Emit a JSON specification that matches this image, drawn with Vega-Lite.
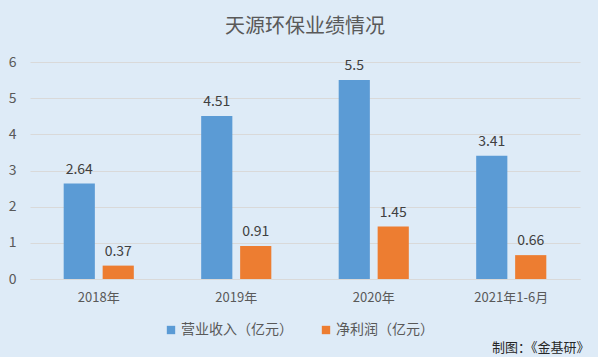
{
  "$schema": "https://vega.github.io/schema/vega-lite/v6.json",
  "width": 550,
  "height": 217,
  "autosize": "none",
  "padding": {"left": 30, "top": 62, "right": 18, "bottom": 78},
  "background": "#DEEBF7",
  "title": {
    "text": "天源环保业绩情况",
    "font": "Noto Sans CJK SC",
    "fontSize": 20,
    "fontWeight": "normal",
    "color": "#595959",
    "anchor": "middle",
    "offset": 18
  },
  "config": {
    "view": {"stroke": null},
    "font": "Noto Sans CJK SC"
  },
  "data": {
    "values": [
      {"period": "2018年", "series": "营业收入（亿元）", "value": 2.64},
      {"period": "2018年", "series": "净利润（亿元）", "value": 0.37},
      {"period": "2019年", "series": "营业收入（亿元）", "value": 4.51},
      {"period": "2019年", "series": "净利润（亿元）", "value": 0.91},
      {"period": "2020年", "series": "营业收入（亿元）", "value": 5.5},
      {"period": "2020年", "series": "净利润（亿元）", "value": 1.45},
      {"period": "2021年1-6月", "series": "营业收入（亿元）", "value": 3.41},
      {"period": "2021年1-6月", "series": "净利润（亿元）", "value": 0.66}
    ]
  },
  "encoding": {
    "x": {
      "field": "period",
      "type": "nominal",
      "sort": null,
      "scale": {"paddingInner": 0.49, "paddingOuter": 0.245},
      "axis": {
        "title": "制图：《金基研》",
        "titleX": 559,
        "titleAlign": "right",
        "titleFont": "Noto Sans CJK SC",
        "titleFontSize": 13,
        "titleFontWeight": 400,
        "titleColor": "#262626",
        "titlePadding": 37,
        "labelAngle": 0,
        "labelFontSize": 13,
        "labelColor": "#595959",
        "labelPadding": 12,
        "domain": true,
        "domainColor": "#D9D9D9",
        "ticks": false
      }
    },
    "xOffset": {
      "field": "series",
      "type": "nominal",
      "sort": ["营业收入（亿元）", "净利润（亿元）"],
      "scale": {"paddingInner": 0.2, "paddingOuter": 0}
    },
    "y": {
      "field": "value",
      "type": "quantitative",
      "scale": {"domain": [0, 6]},
      "axis": {
        "title": null,
        "values": [0, 1, 2, 3, 4, 5, 6],
        "labelOverlap": false,
        "domain": false,
        "ticks": false,
        "labelFontSize": 14,
        "labelColor": "#595959",
        "labelPadding": 14,
        "gridColor": "#D9D9D9",
        "gridWidth": 1
      }
    }
  },
  "layer": [
    {
      "mark": {"type": "bar"},
      "encoding": {
        "color": {
          "field": "series",
          "type": "nominal",
          "scale": {
            "domain": ["营业收入（亿元）", "净利润（亿元）"],
            "range": ["#5B9BD5", "#ED7D31"]
          },
          "legend": {
            "title": null,
            "orient": "none",
            "direction": "horizontal",
            "legendX": 134,
            "legendY": 261,
            "symbolType": "square",
            "symbolSize": 70,
            "labelFontSize": 14,
            "labelColor": "#595959",
            "labelFont": "Noto Sans CJK SC",
            "columnPadding": 26,
            "labelOffset": 3
          }
        }
      }
    },
    {
      "mark": {
        "type": "text",
        "baseline": "bottom",
        "dy": -7,
        "fontSize": 14,
        "color": "#404040"
      },
      "encoding": {
        "text": {"field": "value", "type": "quantitative"}
      }
    }
  ]
}
